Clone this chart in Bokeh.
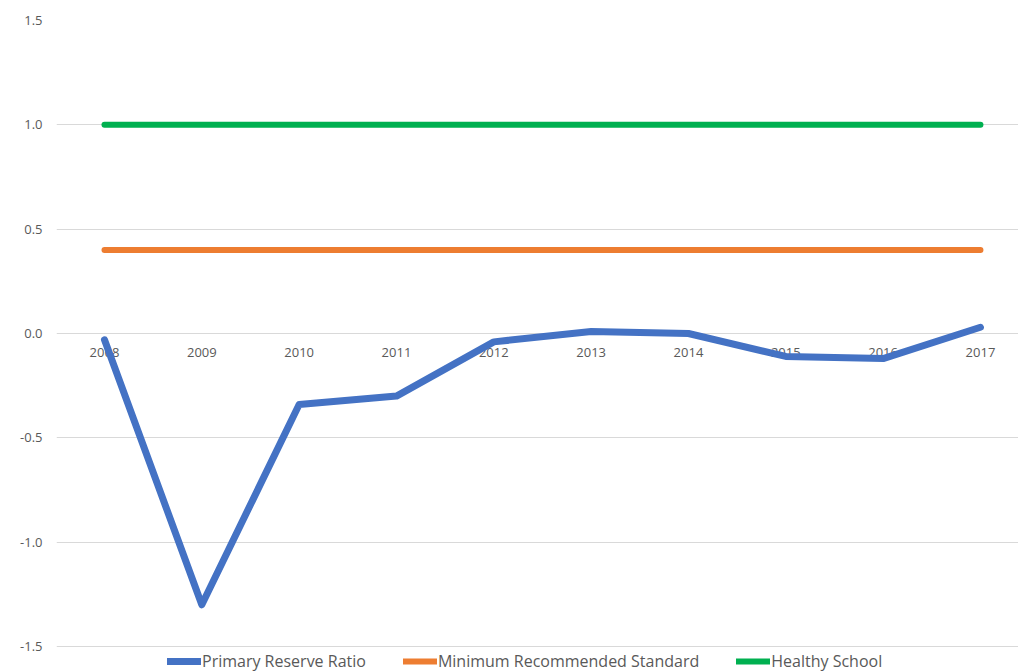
from bokeh.plotting import figure
from bokeh.models import Legend, LegendItem, FixedTicker, ColumnDataSource, Range1d, CustomJSTickFormatter
from bokeh.core.properties import value
from bokeh.embed import file_html
from bokeh.resources import INLINE

years = [2008, 2009, 2010, 2011, 2012, 2013, 2014, 2015, 2016, 2017]
year_labels = [str(y) for y in years]
primary_reserve = [-0.03, -1.30, -0.34, -0.30, -0.04, 0.01, 0.00, -0.11, -0.12, 0.03]
minimum_standard = [0.4] * 10
healthy_school = [1.0] * 10
y_ticks = [-1.5, -1.0, -0.5, 0.0, 0.5, 1.0, 1.5]

FONT = "Open Sans"
GREY = "#595959"

p = figure(width=1018, height=672, output_backend="svg", toolbar_location=None,
           x_range=Range1d(2007.507, 2017.391), y_range=Range1d(-1.6245, 1.5),
           min_border_left=56, min_border_right=0, min_border_top=20, min_border_bottom=0)
p.outline_line_color = None
p.background_fill_color = "white"
p.border_fill_color = "white"

p.xaxis.visible = False
p.xgrid.visible = False
p.yaxis.ticker = FixedTicker(ticks=y_ticks)
p.yaxis.formatter = CustomJSTickFormatter(code="return tick.toFixed(1);")
p.yaxis.axis_line_color = None
p.yaxis.major_tick_line_color = None
p.yaxis.minor_tick_line_color = None
p.yaxis.major_label_text_font = FONT
p.yaxis.major_label_text_font_size = "13px"
p.yaxis.major_label_text_color = GREY
p.yaxis.major_label_standoff = 8
p.ygrid.ticker = FixedTicker(ticks=y_ticks)
p.ygrid.grid_line_color = "#D9D9D9"
p.ygrid.grid_line_width = 1

# category labels sitting below the zero line
lab_src = ColumnDataSource(dict(x=years, y=[0.0] * len(years), t=year_labels))
p.text(x="x", y="y", text="t", source=lab_src, text_font=value(FONT),
       text_font_size="13px", text_color=GREY, text_align="center",
       text_baseline="middle", y_offset=19)

r1 = p.line(years, primary_reserve, line_color="#4472C4", line_width=7,
            line_cap="round", line_join="round")
r2 = p.line(years, minimum_standard, line_color="#ED7D31", line_width=6,
            line_cap="round", line_join="round")
r3 = p.line(years, healthy_school, line_color="#00B050", line_width=6,
            line_cap="round", line_join="round")

legend = Legend(items=[
    LegendItem(label="Primary Reserve Ratio", renderers=[r1]),
    LegendItem(label="Minimum Recommended Standard", renderers=[r2]),
    LegendItem(label="Healthy School", renderers=[r3]),
], orientation="horizontal", location=(111, 0))
legend.background_fill_alpha = 0
legend.border_line_color = None
legend.padding = 0
legend.margin = 0
legend.spacing = 37
legend.glyph_width = 34
legend.glyph_height = 18
legend.label_height = 18
legend.label_standoff = 1
legend.label_text_font = FONT
legend.label_text_font_size = "16px"
legend.label_text_color = GREY
p.add_layout(legend)

open("out.html", "w").write(file_html(p, INLINE))
